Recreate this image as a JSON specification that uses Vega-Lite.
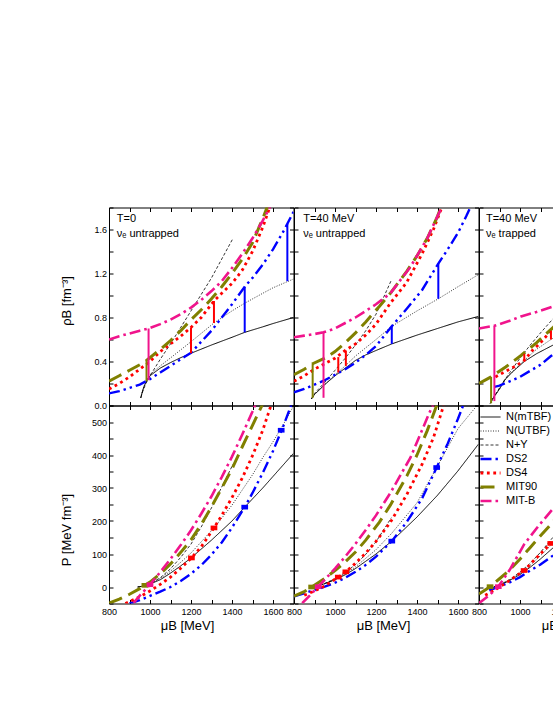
{
"$schema":"https://vega.github.io/schema/vega-lite/v6.json",
"padding":{"left":60,"top":203.5,"right":0,"bottom":0},
"background":"white",
"datasets":{
"curves":[
{"p":"a","m":"N(mTBF)","x":955,"y":0.07},{"p":"a","m":"N(mTBF)","x":962,"y":0.12},{"p":"a","m":"N(mTBF)","x":970,"y":0.17},{"p":"a","m":"N(mTBF)","x":980,"y":0.21},{"p":"a","m":"N(mTBF)","x":1000,"y":0.27},{"p":"a","m":"N(mTBF)","x":1050,"y":0.34},{"p":"a","m":"N(mTBF)","x":1100,"y":0.39},{"p":"a","m":"N(mTBF)","x":1150,"y":0.435},{"p":"a","m":"N(mTBF)","x":1200,"y":0.475},{"p":"a","m":"N(mTBF)","x":1300,"y":0.55},{"p":"a","m":"N(mTBF)","x":1400,"y":0.62},{"p":"a","m":"N(mTBF)","x":1462,"y":0.665},{"p":"a","m":"N(mTBF)","x":1550,"y":0.715},{"p":"a","m":"N(mTBF)","x":1600,"y":0.745},{"p":"a","m":"N(mTBF)","x":1700,"y":0.8},
{"p":"a","m":"N(UTBF)","x":955,"y":0.07},{"p":"a","m":"N(UTBF)","x":962,"y":0.12},{"p":"a","m":"N(UTBF)","x":970,"y":0.17},{"p":"a","m":"N(UTBF)","x":980,"y":0.22},{"p":"a","m":"N(UTBF)","x":1000,"y":0.28},{"p":"a","m":"N(UTBF)","x":1050,"y":0.36},{"p":"a","m":"N(UTBF)","x":1112,"y":0.45},{"p":"a","m":"N(UTBF)","x":1200,"y":0.58},{"p":"a","m":"N(UTBF)","x":1312,"y":0.75},{"p":"a","m":"N(UTBF)","x":1400,"y":0.86},{"p":"a","m":"N(UTBF)","x":1462,"y":0.93},{"p":"a","m":"N(UTBF)","x":1550,"y":1.02},{"p":"a","m":"N(UTBF)","x":1600,"y":1.07},{"p":"a","m":"N(UTBF)","x":1700,"y":1.15},
{"p":"a","m":"N+Y","x":955,"y":0.07},{"p":"a","m":"N+Y","x":965,"y":0.13},{"p":"a","m":"N+Y","x":980,"y":0.2},{"p":"a","m":"N+Y","x":1000,"y":0.27},{"p":"a","m":"N+Y","x":1050,"y":0.42},{"p":"a","m":"N+Y","x":1100,"y":0.56},{"p":"a","m":"N+Y","x":1200,"y":0.86},{"p":"a","m":"N+Y","x":1300,"y":1.16},{"p":"a","m":"N+Y","x":1405,"y":1.52},
{"p":"a","m":"DS2","x":800,"y":0.11},{"p":"a","m":"DS2","x":850,"y":0.13},{"p":"a","m":"DS2","x":900,"y":0.16},{"p":"a","m":"DS2","x":950,"y":0.19},{"p":"a","m":"DS2","x":1000,"y":0.24},{"p":"a","m":"DS2","x":1050,"y":0.3},{"p":"a","m":"DS2","x":1100,"y":0.36},{"p":"a","m":"DS2","x":1150,"y":0.42},{"p":"a","m":"DS2","x":1200,"y":0.48},{"p":"a","m":"DS2","x":1250,"y":0.58},{"p":"a","m":"DS2","x":1300,"y":0.68},{"p":"a","m":"DS2","x":1350,"y":0.8},{"p":"a","m":"DS2","x":1400,"y":0.92},{"p":"a","m":"DS2","x":1462,"y":1.08},{"p":"a","m":"DS2","x":1500,"y":1.16},{"p":"a","m":"DS2","x":1550,"y":1.28},{"p":"a","m":"DS2","x":1600,"y":1.42},{"p":"a","m":"DS2","x":1650,"y":1.58},{"p":"a","m":"DS2","x":1700,"y":1.76},
{"p":"a","m":"DS4","x":800,"y":0.15},{"p":"a","m":"DS4","x":850,"y":0.2},{"p":"a","m":"DS4","x":900,"y":0.26},{"p":"a","m":"DS4","x":950,"y":0.33},{"p":"a","m":"DS4","x":1000,"y":0.4},{"p":"a","m":"DS4","x":1050,"y":0.49},{"p":"a","m":"DS4","x":1100,"y":0.56},{"p":"a","m":"DS4","x":1150,"y":0.63},{"p":"a","m":"DS4","x":1200,"y":0.71},{"p":"a","m":"DS4","x":1250,"y":0.8},{"p":"a","m":"DS4","x":1312,"y":0.95},{"p":"a","m":"DS4","x":1350,"y":1.02},{"p":"a","m":"DS4","x":1400,"y":1.11},{"p":"a","m":"DS4","x":1450,"y":1.23},{"p":"a","m":"DS4","x":1500,"y":1.4},{"p":"a","m":"DS4","x":1550,"y":1.62},{"p":"a","m":"DS4","x":1580,"y":1.78},{"p":"a","m":"DS4","x":1600,"y":1.88},
{"p":"a","m":"MIT90","x":800,"y":0.22},{"p":"a","m":"MIT90","x":850,"y":0.27},{"p":"a","m":"MIT90","x":900,"y":0.32},{"p":"a","m":"MIT90","x":950,"y":0.37},{"p":"a","m":"MIT90","x":983,"y":0.41},{"p":"a","m":"MIT90","x":1050,"y":0.51},{"p":"a","m":"MIT90","x":1100,"y":0.59},{"p":"a","m":"MIT90","x":1150,"y":0.68},{"p":"a","m":"MIT90","x":1200,"y":0.78},{"p":"a","m":"MIT90","x":1250,"y":0.87},{"p":"a","m":"MIT90","x":1300,"y":0.97},{"p":"a","m":"MIT90","x":1350,"y":1.08},{"p":"a","m":"MIT90","x":1400,"y":1.2},{"p":"a","m":"MIT90","x":1450,"y":1.33},{"p":"a","m":"MIT90","x":1500,"y":1.48},{"p":"a","m":"MIT90","x":1550,"y":1.7},{"p":"a","m":"MIT90","x":1575,"y":1.82},
{"p":"a","m":"MIT-B","x":800,"y":0.6},{"p":"a","m":"MIT-B","x":850,"y":0.63},{"p":"a","m":"MIT-B","x":900,"y":0.655},{"p":"a","m":"MIT-B","x":950,"y":0.68},{"p":"a","m":"MIT-B","x":993,"y":0.7},{"p":"a","m":"MIT-B","x":1050,"y":0.74},{"p":"a","m":"MIT-B","x":1100,"y":0.78},{"p":"a","m":"MIT-B","x":1150,"y":0.83},{"p":"a","m":"MIT-B","x":1200,"y":0.89},{"p":"a","m":"MIT-B","x":1250,"y":0.96},{"p":"a","m":"MIT-B","x":1300,"y":1.04},{"p":"a","m":"MIT-B","x":1350,"y":1.13},{"p":"a","m":"MIT-B","x":1400,"y":1.25},{"p":"a","m":"MIT-B","x":1450,"y":1.38},{"p":"a","m":"MIT-B","x":1500,"y":1.52},{"p":"a","m":"MIT-B","x":1550,"y":1.68},{"p":"a","m":"MIT-B","x":1590,"y":1.82},

{"p":"b","m":"N(mTBF)","x":885,"y":0.06},{"p":"b","m":"N(mTBF)","x":900,"y":0.1},{"p":"b","m":"N(mTBF)","x":950,"y":0.19},{"p":"b","m":"N(mTBF)","x":1000,"y":0.27},{"p":"b","m":"N(mTBF)","x":1050,"y":0.34},{"p":"b","m":"N(mTBF)","x":1100,"y":0.41},{"p":"b","m":"N(mTBF)","x":1150,"y":0.46},{"p":"b","m":"N(mTBF)","x":1200,"y":0.5},{"p":"b","m":"N(mTBF)","x":1277,"y":0.56},{"p":"b","m":"N(mTBF)","x":1400,"y":0.64},{"p":"b","m":"N(mTBF)","x":1500,"y":0.7},{"p":"b","m":"N(mTBF)","x":1600,"y":0.76},{"p":"b","m":"N(mTBF)","x":1700,"y":0.81},
{"p":"b","m":"N(UTBF)","x":885,"y":0.06},{"p":"b","m":"N(UTBF)","x":900,"y":0.1},{"p":"b","m":"N(UTBF)","x":950,"y":0.19},{"p":"b","m":"N(UTBF)","x":1000,"y":0.28},{"p":"b","m":"N(UTBF)","x":1050,"y":0.36},{"p":"b","m":"N(UTBF)","x":1100,"y":0.45},{"p":"b","m":"N(UTBF)","x":1200,"y":0.6},{"p":"b","m":"N(UTBF)","x":1277,"y":0.72},{"p":"b","m":"N(UTBF)","x":1400,"y":0.86},{"p":"b","m":"N(UTBF)","x":1504,"y":0.97},{"p":"b","m":"N(UTBF)","x":1600,"y":1.08},{"p":"b","m":"N(UTBF)","x":1700,"y":1.19},
{"p":"b","m":"N+Y","x":885,"y":0.06},{"p":"b","m":"N+Y","x":900,"y":0.11},{"p":"b","m":"N+Y","x":950,"y":0.21},{"p":"b","m":"N+Y","x":1000,"y":0.32},{"p":"b","m":"N+Y","x":1050,"y":0.43},{"p":"b","m":"N+Y","x":1100,"y":0.55},{"p":"b","m":"N+Y","x":1150,"y":0.68},{"p":"b","m":"N+Y","x":1200,"y":0.83},{"p":"b","m":"N+Y","x":1275,"y":1.14},
{"p":"b","m":"DS2","x":800,"y":0.12},{"p":"b","m":"DS2","x":850,"y":0.15},{"p":"b","m":"DS2","x":900,"y":0.19},{"p":"b","m":"DS2","x":950,"y":0.23},{"p":"b","m":"DS2","x":1000,"y":0.28},{"p":"b","m":"DS2","x":1050,"y":0.33},{"p":"b","m":"DS2","x":1100,"y":0.39},{"p":"b","m":"DS2","x":1150,"y":0.46},{"p":"b","m":"DS2","x":1200,"y":0.54},{"p":"b","m":"DS2","x":1277,"y":0.72},{"p":"b","m":"DS2","x":1350,"y":0.88},{"p":"b","m":"DS2","x":1425,"y":1.05},{"p":"b","m":"DS2","x":1504,"y":1.29},{"p":"b","m":"DS2","x":1550,"y":1.42},{"p":"b","m":"DS2","x":1600,"y":1.57},{"p":"b","m":"DS2","x":1640,"y":1.72},{"p":"b","m":"DS2","x":1665,"y":1.82},
{"p":"b","m":"DS4","x":800,"y":0.22},{"p":"b","m":"DS4","x":850,"y":0.27},{"p":"b","m":"DS4","x":900,"y":0.33},{"p":"b","m":"DS4","x":950,"y":0.38},{"p":"b","m":"DS4","x":1000,"y":0.43},{"p":"b","m":"DS4","x":1050,"y":0.5},{"p":"b","m":"DS4","x":1100,"y":0.56},{"p":"b","m":"DS4","x":1150,"y":0.64},{"p":"b","m":"DS4","x":1200,"y":0.74},{"p":"b","m":"DS4","x":1270,"y":0.93},{"p":"b","m":"DS4","x":1350,"y":1.12},{"p":"b","m":"DS4","x":1425,"y":1.38},{"p":"b","m":"DS4","x":1480,"y":1.6},{"p":"b","m":"DS4","x":1525,"y":1.82},
{"p":"b","m":"MIT90","x":800,"y":0.28},{"p":"b","m":"MIT90","x":850,"y":0.33},{"p":"b","m":"MIT90","x":891,"y":0.38},{"p":"b","m":"MIT90","x":950,"y":0.43},{"p":"b","m":"MIT90","x":1000,"y":0.49},{"p":"b","m":"MIT90","x":1050,"y":0.57},{"p":"b","m":"MIT90","x":1100,"y":0.66},{"p":"b","m":"MIT90","x":1150,"y":0.76},{"p":"b","m":"MIT90","x":1216,"y":0.9},{"p":"b","m":"MIT90","x":1270,"y":1.02},{"p":"b","m":"MIT90","x":1350,"y":1.22},{"p":"b","m":"MIT90","x":1400,"y":1.36},{"p":"b","m":"MIT90","x":1450,"y":1.52},{"p":"b","m":"MIT90","x":1500,"y":1.72},{"p":"b","m":"MIT90","x":1520,"y":1.82},
{"p":"b","m":"MIT-B","x":800,"y":0.62},{"p":"b","m":"MIT-B","x":850,"y":0.635},{"p":"b","m":"MIT-B","x":900,"y":0.65},{"p":"b","m":"MIT-B","x":944,"y":0.665},{"p":"b","m":"MIT-B","x":1000,"y":0.7},{"p":"b","m":"MIT-B","x":1050,"y":0.75},{"p":"b","m":"MIT-B","x":1100,"y":0.8},{"p":"b","m":"MIT-B","x":1150,"y":0.86},{"p":"b","m":"MIT-B","x":1200,"y":0.92},{"p":"b","m":"MIT-B","x":1270,"y":1.02},{"p":"b","m":"MIT-B","x":1368,"y":1.26},{"p":"b","m":"MIT-B","x":1450,"y":1.52},{"p":"b","m":"MIT-B","x":1525,"y":1.82},

{"p":"c","m":"N(mTBF)","x":855,"y":0.02},{"p":"c","m":"N(mTBF)","x":870,"y":0.07},{"p":"c","m":"N(mTBF)","x":900,"y":0.15},{"p":"c","m":"N(mTBF)","x":924,"y":0.23},{"p":"c","m":"N(mTBF)","x":960,"y":0.3},{"p":"c","m":"N(mTBF)","x":1021,"y":0.4},{"p":"c","m":"N(mTBF)","x":1080,"y":0.47},{"p":"c","m":"N(mTBF)","x":1162,"y":0.55},{"p":"c","m":"N(mTBF)","x":1200,"y":0.58},
{"p":"c","m":"N(UTBF)","x":855,"y":0.02},{"p":"c","m":"N(UTBF)","x":870,"y":0.07},{"p":"c","m":"N(UTBF)","x":900,"y":0.15},{"p":"c","m":"N(UTBF)","x":930,"y":0.24},{"p":"c","m":"N(UTBF)","x":970,"y":0.32},{"p":"c","m":"N(UTBF)","x":1021,"y":0.41},{"p":"c","m":"N(UTBF)","x":1080,"y":0.51},{"p":"c","m":"N(UTBF)","x":1151,"y":0.6},{"p":"c","m":"N(UTBF)","x":1200,"y":0.66},
{"p":"c","m":"N+Y","x":855,"y":0.02},{"p":"c","m":"N+Y","x":870,"y":0.07},{"p":"c","m":"N+Y","x":900,"y":0.16},{"p":"c","m":"N+Y","x":950,"y":0.3},{"p":"c","m":"N+Y","x":1000,"y":0.43},{"p":"c","m":"N+Y","x":1050,"y":0.55},{"p":"c","m":"N+Y","x":1100,"y":0.66},{"p":"c","m":"N+Y","x":1162,"y":0.79},{"p":"c","m":"N+Y","x":1200,"y":0.86},
{"p":"c","m":"DS2","x":875,"y":0.17},{"p":"c","m":"DS2","x":900,"y":0.18},{"p":"c","m":"DS2","x":950,"y":0.22},{"p":"c","m":"DS2","x":1000,"y":0.26},{"p":"c","m":"DS2","x":1054,"y":0.32},{"p":"c","m":"DS2","x":1100,"y":0.37},{"p":"c","m":"DS2","x":1151,"y":0.45},{"p":"c","m":"DS2","x":1200,"y":0.51},
{"p":"c","m":"DS4","x":880,"y":0.26},{"p":"c","m":"DS4","x":900,"y":0.28},{"p":"c","m":"DS4","x":940,"y":0.32},{"p":"c","m":"DS4","x":980,"y":0.36},{"p":"c","m":"DS4","x":1021,"y":0.41},{"p":"c","m":"DS4","x":1060,"y":0.5},{"p":"c","m":"DS4","x":1100,"y":0.57},{"p":"c","m":"DS4","x":1151,"y":0.68},{"p":"c","m":"DS4","x":1200,"y":0.76},
{"p":"c","m":"MIT90","x":800,"y":0.2},{"p":"c","m":"MIT90","x":859,"y":0.26},{"p":"c","m":"MIT90","x":930,"y":0.35},{"p":"c","m":"MIT90","x":1005,"y":0.455},{"p":"c","m":"MIT90","x":1080,"y":0.57},{"p":"c","m":"MIT90","x":1162,"y":0.71},{"p":"c","m":"MIT90","x":1200,"y":0.78},
{"p":"c","m":"MIT-B","x":800,"y":0.7},{"p":"c","m":"MIT-B","x":875,"y":0.725},{"p":"c","m":"MIT-B","x":950,"y":0.77},{"p":"c","m":"MIT-B","x":1005,"y":0.81},{"p":"c","m":"MIT-B","x":1080,"y":0.85},{"p":"c","m":"MIT-B","x":1162,"y":0.9},{"p":"c","m":"MIT-B","x":1200,"y":0.92},

{"p":"d","m":"N(mTBF)","x":940,"y":0},{"p":"d","m":"N(mTBF)","x":960,"y":2},{"p":"d","m":"N(mTBF)","x":980,"y":5},{"p":"d","m":"N(mTBF)","x":1000,"y":9},{"p":"d","m":"N(mTBF)","x":1050,"y":22},{"p":"d","m":"N(mTBF)","x":1100,"y":42},{"p":"d","m":"N(mTBF)","x":1150,"y":64},{"p":"d","m":"N(mTBF)","x":1200,"y":88},{"p":"d","m":"N(mTBF)","x":1300,"y":142},{"p":"d","m":"N(mTBF)","x":1400,"y":200},{"p":"d","m":"N(mTBF)","x":1462,"y":242},{"p":"d","m":"N(mTBF)","x":1550,"y":300},{"p":"d","m":"N(mTBF)","x":1600,"y":335},{"p":"d","m":"N(mTBF)","x":1700,"y":405},
{"p":"d","m":"N(UTBF)","x":940,"y":0},{"p":"d","m":"N(UTBF)","x":960,"y":2},{"p":"d","m":"N(UTBF)","x":980,"y":5},{"p":"d","m":"N(UTBF)","x":1000,"y":10},{"p":"d","m":"N(UTBF)","x":1050,"y":26},{"p":"d","m":"N(UTBF)","x":1100,"y":48},{"p":"d","m":"N(UTBF)","x":1150,"y":75},{"p":"d","m":"N(UTBF)","x":1200,"y":103},{"p":"d","m":"N(UTBF)","x":1312,"y":179},{"p":"d","m":"N(UTBF)","x":1400,"y":248},{"p":"d","m":"N(UTBF)","x":1500,"y":340},{"p":"d","m":"N(UTBF)","x":1550,"y":392},{"p":"d","m":"N(UTBF)","x":1600,"y":440},{"p":"d","m":"N(UTBF)","x":1650,"y":492},{"p":"d","m":"N(UTBF)","x":1700,"y":548},
{"p":"d","m":"N+Y","x":940,"y":0},{"p":"d","m":"N+Y","x":960,"y":2},{"p":"d","m":"N+Y","x":980,"y":5},{"p":"d","m":"N+Y","x":1000,"y":10},{"p":"d","m":"N+Y","x":1050,"y":28},{"p":"d","m":"N+Y","x":1100,"y":55},{"p":"d","m":"N+Y","x":1150,"y":90},{"p":"d","m":"N+Y","x":1200,"y":130},{"p":"d","m":"N+Y","x":1250,"y":182},{"p":"d","m":"N+Y","x":1300,"y":240},{"p":"d","m":"N+Y","x":1350,"y":303},{"p":"d","m":"N+Y","x":1405,"y":372},
{"p":"d","m":"DS2","x":900,"y":-50},{"p":"d","m":"DS2","x":950,"y":-40},{"p":"d","m":"DS2","x":1000,"y":-27},{"p":"d","m":"DS2","x":1050,"y":-14},{"p":"d","m":"DS2","x":1100,"y":0},{"p":"d","m":"DS2","x":1150,"y":18},{"p":"d","m":"DS2","x":1200,"y":40},{"p":"d","m":"DS2","x":1250,"y":66},{"p":"d","m":"DS2","x":1300,"y":98},{"p":"d","m":"DS2","x":1350,"y":135},{"p":"d","m":"DS2","x":1400,"y":180},{"p":"d","m":"DS2","x":1462,"y":242},{"p":"d","m":"DS2","x":1500,"y":285},{"p":"d","m":"DS2","x":1550,"y":346},{"p":"d","m":"DS2","x":1600,"y":412},{"p":"d","m":"DS2","x":1650,"y":487},{"p":"d","m":"DS2","x":1700,"y":570},
{"p":"d","m":"DS4","x":880,"y":-50},{"p":"d","m":"DS4","x":900,"y":-44},{"p":"d","m":"DS4","x":950,"y":-30},{"p":"d","m":"DS4","x":1000,"y":-12},{"p":"d","m":"DS4","x":1050,"y":8},{"p":"d","m":"DS4","x":1100,"y":30},{"p":"d","m":"DS4","x":1150,"y":57},{"p":"d","m":"DS4","x":1202,"y":88},{"p":"d","m":"DS4","x":1250,"y":122},{"p":"d","m":"DS4","x":1312,"y":179},{"p":"d","m":"DS4","x":1350,"y":217},{"p":"d","m":"DS4","x":1400,"y":271},{"p":"d","m":"DS4","x":1450,"y":330},{"p":"d","m":"DS4","x":1503,"y":402},{"p":"d","m":"DS4","x":1550,"y":475},{"p":"d","m":"DS4","x":1590,"y":550},
{"p":"d","m":"MIT90","x":800,"y":-49},{"p":"d","m":"MIT90","x":850,"y":-37},{"p":"d","m":"MIT90","x":900,"y":-22},{"p":"d","m":"MIT90","x":950,"y":-5},{"p":"d","m":"MIT90","x":975,"y":5},{"p":"d","m":"MIT90","x":1000,"y":15},{"p":"d","m":"MIT90","x":1050,"y":40},{"p":"d","m":"MIT90","x":1100,"y":70},{"p":"d","m":"MIT90","x":1150,"y":105},{"p":"d","m":"MIT90","x":1200,"y":143},{"p":"d","m":"MIT90","x":1250,"y":190},{"p":"d","m":"MIT90","x":1300,"y":243},{"p":"d","m":"MIT90","x":1350,"y":300},{"p":"d","m":"MIT90","x":1400,"y":358},{"p":"d","m":"MIT90","x":1450,"y":425},{"p":"d","m":"MIT90","x":1500,"y":490},{"p":"d","m":"MIT90","x":1550,"y":555},
{"p":"d","m":"MIT-B","x":920,"y":-48},{"p":"d","m":"MIT-B","x":950,"y":-26},{"p":"d","m":"MIT-B","x":1000,"y":7},{"p":"d","m":"MIT-B","x":1050,"y":45},{"p":"d","m":"MIT-B","x":1100,"y":85},{"p":"d","m":"MIT-B","x":1150,"y":127},{"p":"d","m":"MIT-B","x":1200,"y":172},{"p":"d","m":"MIT-B","x":1250,"y":222},{"p":"d","m":"MIT-B","x":1300,"y":275},{"p":"d","m":"MIT-B","x":1350,"y":333},{"p":"d","m":"MIT-B","x":1400,"y":395},{"p":"d","m":"MIT-B","x":1450,"y":462},{"p":"d","m":"MIT-B","x":1500,"y":532},{"p":"d","m":"MIT-B","x":1515,"y":555},

{"p":"e","m":"N(mTBF)","x":878,"y":-3},{"p":"e","m":"N(mTBF)","x":900,"y":0},{"p":"e","m":"N(mTBF)","x":950,"y":10},{"p":"e","m":"N(mTBF)","x":1000,"y":22},{"p":"e","m":"N(mTBF)","x":1050,"y":37},{"p":"e","m":"N(mTBF)","x":1100,"y":56},{"p":"e","m":"N(mTBF)","x":1150,"y":78},{"p":"e","m":"N(mTBF)","x":1200,"y":100},{"p":"e","m":"N(mTBF)","x":1277,"y":139},{"p":"e","m":"N(mTBF)","x":1400,"y":212},{"p":"e","m":"N(mTBF)","x":1500,"y":278},{"p":"e","m":"N(mTBF)","x":1600,"y":352},{"p":"e","m":"N(mTBF)","x":1700,"y":433},
{"p":"e","m":"N(UTBF)","x":878,"y":-3},{"p":"e","m":"N(UTBF)","x":900,"y":0},{"p":"e","m":"N(UTBF)","x":950,"y":10},{"p":"e","m":"N(UTBF)","x":1000,"y":23},{"p":"e","m":"N(UTBF)","x":1050,"y":40},{"p":"e","m":"N(UTBF)","x":1100,"y":61},{"p":"e","m":"N(UTBF)","x":1150,"y":87},{"p":"e","m":"N(UTBF)","x":1200,"y":113},{"p":"e","m":"N(UTBF)","x":1277,"y":163},{"p":"e","m":"N(UTBF)","x":1400,"y":255},{"p":"e","m":"N(UTBF)","x":1496,"y":362},{"p":"e","m":"N(UTBF)","x":1600,"y":480},{"p":"e","m":"N(UTBF)","x":1690,"y":548},
{"p":"e","m":"N+Y","x":878,"y":-3},{"p":"e","m":"N+Y","x":900,"y":0},{"p":"e","m":"N+Y","x":950,"y":11},{"p":"e","m":"N+Y","x":1000,"y":25},{"p":"e","m":"N+Y","x":1050,"y":44},{"p":"e","m":"N+Y","x":1100,"y":68},{"p":"e","m":"N+Y","x":1150,"y":99},{"p":"e","m":"N+Y","x":1200,"y":137},{"p":"e","m":"N+Y","x":1275,"y":210},
{"p":"e","m":"DS2","x":800,"y":-28},{"p":"e","m":"DS2","x":850,"y":-19},{"p":"e","m":"DS2","x":900,"y":-9},{"p":"e","m":"DS2","x":950,"y":1},{"p":"e","m":"DS2","x":1000,"y":13},{"p":"e","m":"DS2","x":1050,"y":28},{"p":"e","m":"DS2","x":1100,"y":46},{"p":"e","m":"DS2","x":1150,"y":67},{"p":"e","m":"DS2","x":1200,"y":92},{"p":"e","m":"DS2","x":1277,"y":139},{"p":"e","m":"DS2","x":1350,"y":197},{"p":"e","m":"DS2","x":1425,"y":269},{"p":"e","m":"DS2","x":1496,"y":362},{"p":"e","m":"DS2","x":1550,"y":435},{"p":"e","m":"DS2","x":1600,"y":510},{"p":"e","m":"DS2","x":1625,"y":550},
{"p":"e","m":"DS4","x":850,"y":-25},{"p":"e","m":"DS4","x":900,"y":-12},{"p":"e","m":"DS4","x":950,"y":3},{"p":"e","m":"DS4","x":1016,"y":30},{"p":"e","m":"DS4","x":1053,"y":46},{"p":"e","m":"DS4","x":1100,"y":72},{"p":"e","m":"DS4","x":1150,"y":103},{"p":"e","m":"DS4","x":1200,"y":138},{"p":"e","m":"DS4","x":1270,"y":196},{"p":"e","m":"DS4","x":1350,"y":280},{"p":"e","m":"DS4","x":1425,"y":372},{"p":"e","m":"DS4","x":1480,"y":452},{"p":"e","m":"DS4","x":1530,"y":550},
{"p":"e","m":"MIT90","x":800,"y":-28},{"p":"e","m":"MIT90","x":850,"y":-14},{"p":"e","m":"MIT90","x":886,"y":0},{"p":"e","m":"MIT90","x":950,"y":26},{"p":"e","m":"MIT90","x":1000,"y":50},{"p":"e","m":"MIT90","x":1050,"y":76},{"p":"e","m":"MIT90","x":1100,"y":106},{"p":"e","m":"MIT90","x":1150,"y":142},{"p":"e","m":"MIT90","x":1216,"y":196},{"p":"e","m":"MIT90","x":1270,"y":248},{"p":"e","m":"MIT90","x":1350,"y":336},{"p":"e","m":"MIT90","x":1400,"y":400},{"p":"e","m":"MIT90","x":1450,"y":474},{"p":"e","m":"MIT90","x":1496,"y":550},
{"p":"e","m":"MIT-B","x":840,"y":-49},{"p":"e","m":"MIT-B","x":880,"y":-24},{"p":"e","m":"MIT-B","x":918,"y":1},{"p":"e","m":"MIT-B","x":950,"y":22},{"p":"e","m":"MIT-B","x":1000,"y":56},{"p":"e","m":"MIT-B","x":1050,"y":92},{"p":"e","m":"MIT-B","x":1100,"y":131},{"p":"e","m":"MIT-B","x":1150,"y":173},{"p":"e","m":"MIT-B","x":1200,"y":217},{"p":"e","m":"MIT-B","x":1270,"y":285},{"p":"e","m":"MIT-B","x":1368,"y":392},{"p":"e","m":"MIT-B","x":1455,"y":520},{"p":"e","m":"MIT-B","x":1480,"y":555},

{"p":"f","m":"N(mTBF)","x":850,"y":-5},{"p":"f","m":"N(mTBF)","x":900,"y":5},{"p":"f","m":"N(mTBF)","x":950,"y":20},{"p":"f","m":"N(mTBF)","x":1000,"y":38},{"p":"f","m":"N(mTBF)","x":1050,"y":60},{"p":"f","m":"N(mTBF)","x":1100,"y":85},{"p":"f","m":"N(mTBF)","x":1160,"y":118},{"p":"f","m":"N(mTBF)","x":1200,"y":140},
{"p":"f","m":"N(UTBF)","x":850,"y":-5},{"p":"f","m":"N(UTBF)","x":900,"y":5},{"p":"f","m":"N(UTBF)","x":950,"y":21},{"p":"f","m":"N(UTBF)","x":1000,"y":41},{"p":"f","m":"N(UTBF)","x":1050,"y":66},{"p":"f","m":"N(UTBF)","x":1100,"y":95},{"p":"f","m":"N(UTBF)","x":1160,"y":132},{"p":"f","m":"N(UTBF)","x":1200,"y":160},
{"p":"f","m":"N+Y","x":850,"y":-5},{"p":"f","m":"N+Y","x":900,"y":6},{"p":"f","m":"N+Y","x":950,"y":23},{"p":"f","m":"N+Y","x":1000,"y":45},{"p":"f","m":"N+Y","x":1050,"y":72},{"p":"f","m":"N+Y","x":1100,"y":105},{"p":"f","m":"N+Y","x":1160,"y":150},{"p":"f","m":"N+Y","x":1200,"y":182},
{"p":"f","m":"DS2","x":850,"y":-10},{"p":"f","m":"DS2","x":900,"y":2},{"p":"f","m":"DS2","x":950,"y":14},{"p":"f","m":"DS2","x":1000,"y":30},{"p":"f","m":"DS2","x":1050,"y":50},{"p":"f","m":"DS2","x":1100,"y":68},{"p":"f","m":"DS2","x":1160,"y":95},{"p":"f","m":"DS2","x":1200,"y":118},
{"p":"f","m":"DS4","x":830,"y":-25},{"p":"f","m":"DS4","x":880,"y":-8},{"p":"f","m":"DS4","x":950,"y":20},{"p":"f","m":"DS4","x":1020,"y":50},{"p":"f","m":"DS4","x":1080,"y":88},{"p":"f","m":"DS4","x":1150,"y":132},{"p":"f","m":"DS4","x":1200,"y":170},
{"p":"f","m":"MIT90","x":800,"y":-21},{"p":"f","m":"MIT90","x":854,"y":1},{"p":"f","m":"MIT90","x":900,"y":25},{"p":"f","m":"MIT90","x":950,"y":52},{"p":"f","m":"MIT90","x":1005,"y":88},{"p":"f","m":"MIT90","x":1050,"y":120},{"p":"f","m":"MIT90","x":1100,"y":155},{"p":"f","m":"MIT90","x":1165,"y":200},{"p":"f","m":"MIT90","x":1200,"y":228},
{"p":"f","m":"MIT-B","x":800,"y":-49},{"p":"f","m":"MIT-B","x":850,"y":-25},{"p":"f","m":"MIT-B","x":894,"y":1},{"p":"f","m":"MIT-B","x":950,"y":52},{"p":"f","m":"MIT-B","x":1020,"y":129},{"p":"f","m":"MIT-B","x":1090,"y":185},{"p":"f","m":"MIT-B","x":1165,"y":240},{"p":"f","m":"MIT-B","x":1200,"y":270}
],
"trans":[
{"p":"a","m":"MIT90","x":983,"lo":0.22,"hi":0.41},{"p":"a","m":"MIT-B","x":993,"lo":0.23,"hi":0.7},{"p":"a","m":"DS4","x":1200,"lo":0.475,"hi":0.71},{"p":"a","m":"DS4","x":1312,"lo":0.75,"hi":0.95},{"p":"a","m":"DS2","x":1462,"lo":0.665,"hi":1.08},{"p":"a","m":"DS2","x":1670,"lo":1.13,"hi":1.65},
{"p":"b","m":"MIT90","x":891,"lo":0.07,"hi":0.38},{"p":"b","m":"MIT-B","x":944,"lo":0.07,"hi":0.665},{"p":"b","m":"DS4","x":1016,"lo":0.3,"hi":0.44},{"p":"b","m":"DS4","x":1053,"lo":0.36,"hi":0.5},{"p":"b","m":"DS2","x":1277,"lo":0.56,"hi":0.72},{"p":"b","m":"DS2","x":1504,"lo":0.97,"hi":1.29},
{"p":"c","m":"MIT90","x":859,"lo":0.02,"hi":0.26},{"p":"c","m":"MIT-B","x":875,"lo":0.04,"hi":0.725},{"p":"c","m":"DS4","x":1021,"lo":0.41,"hi":0.47},{"p":"c","m":"DS4","x":1151,"lo":0.6,"hi":0.68}
],
"squares":[
{"p":"d","m":"MIT90","x":975,"y":5},{"p":"d","m":"MIT-B","x":1000,"y":7},{"p":"d","m":"DS4","x":1202,"y":88},{"p":"d","m":"DS4","x":1312,"y":179},{"p":"d","m":"DS2","x":1462,"y":242},{"p":"d","m":"DS2","x":1640,"y":475},
{"p":"e","m":"MIT90","x":886,"y":0},{"p":"e","m":"MIT-B","x":918,"y":1},{"p":"e","m":"DS4","x":1016,"y":30},{"p":"e","m":"DS4","x":1053,"y":46},{"p":"e","m":"DS2","x":1277,"y":139},{"p":"e","m":"DS2","x":1496,"y":362},
{"p":"f","m":"MIT90","x":854,"y":1},{"p":"f","m":"MIT-B","x":894,"y":1},{"p":"f","m":"DS4","x":1020,"y":50},{"p":"f","m":"DS4","x":1150,"y":132}
],
"notes":[
{"p":"a","x":838,"y":1.7,"t":"T=0"},{"p":"a","x":838,"y":1.555,"t":"νₑ untrapped"},
{"p":"b","x":845,"y":1.7,"t":"T=40 MeV"},{"p":"b","x":845,"y":1.555,"t":"νₑ untrapped"},
{"p":"c","x":834,"y":1.7,"t":"T=40 MeV"},{"p":"c","x":834,"y":1.555,"t":"νₑ trapped"}
]
},
"columns":3,
"spacing":0,
"bounds":"flush",
"resolve":{"legend":{"color":"independent","strokeDash":"independent","strokeWidth":"independent"}},
"concat":[
{"width":184.5,"height":198,
 "layer":[
  {"data":{"name":"curves"},"transform":[{"filter":"datum.p=='a'"}],"mark":{"type":"line","clip":true},
   "encoding":{
    "x":{"field":"x","type":"quantitative","scale":{"domain":[800,1700]},"axis":{"orient":"bottom","values":[800,900,1000,1100,1200,1300,1400,1500,1600,1700],"labels":false,"title":null}},
    "y":{"field":"y","type":"quantitative","scale":{"domain":[0,1.8]},"axis":{"orient":"left","values":[0,0.2,0.4,0.6,0.8,1,1.2,1.4,1.6,1.8],"labelExpr":"(round(datum.value*10) % 4 == 0 && datum.value < 1.7) ? format(datum.value,'.1f') : ''","title":"ρB [fm⁻³]","titleX":-36,"titleY":93}},
    "color":{"field":"m","type":"nominal","scale":{"domain":["N(mTBF)","N(UTBF)","N+Y","DS2","DS4","MIT90","MIT-B"],"range":["#000000","#000000","#000000","#0000FF","#FF0000","#808000","#F0148C"]},"legend":null},
    "strokeDash":{"field":"m","type":"nominal","scale":{"domain":["N(mTBF)","N(UTBF)","N+Y","DS2","DS4","MIT90","MIT-B"],"range":[[1,0],[1,1.5],[3,2],[11,4,2.4,4,2.4,4],[2.8,3.6],[14,7],[11,4,2.6,4]]},"legend":null},
    "strokeWidth":{"field":"m","type":"nominal","scale":{"type":"ordinal","domain":["N(mTBF)","N(UTBF)","N+Y","DS2","DS4","MIT90","MIT-B"],"range":[1,0.8,0.8,2.4,2.8,3,2.6]},"legend":null}
   }},
  {"data":{"name":"trans"},"transform":[{"filter":"datum.p=='a'"}],"mark":{"type":"rule","strokeWidth":2},
   "encoding":{"x":{"field":"x","type":"quantitative","axis":null},"y":{"field":"lo","type":"quantitative","axis":null},"y2":{"field":"hi"},"color":{"field":"m","type":"nominal","legend":null}}},
  {"data":{"name":"notes"},"transform":[{"filter":"datum.p=='a'"}],"mark":{"type":"text","align":"left","baseline":"middle","fontSize":11,"font":"Liberation Sans","color":"#000"},
   "encoding":{"x":{"field":"x","type":"quantitative","axis":{"orient":"top","values":[800,900,1000,1100,1200,1300,1400,1500,1600,1700],"labels":false,"title":null}},
    "y":{"field":"y","type":"quantitative","axis":{"orient":"right","values":[0,0.2,0.4,0.6,0.8,1,1.2,1.4,1.6,1.8],"labels":false,"title":null}},"text":{"field":"t"}}}
 ],
 "resolve":{"axis":{"x":"independent","y":"independent"}}},
{"width":184.5,"height":198,
 "layer":[
  {"data":{"name":"curves"},"transform":[{"filter":"datum.p=='b'"}],"mark":{"type":"line","clip":true},
   "encoding":{
    "x":{"field":"x","type":"quantitative","scale":{"domain":[800,1700]},"axis":{"orient":"bottom","values":[800,900,1000,1100,1200,1300,1400,1500,1600,1700],"labels":false,"title":null}},
    "y":{"field":"y","type":"quantitative","scale":{"domain":[0,1.8]},"axis":{"orient":"left","values":[0,0.2,0.4,0.6,0.8,1,1.2,1.4,1.6,1.8],"labels":false,"title":null}},
    "color":{"field":"m","type":"nominal","scale":{"domain":["N(mTBF)","N(UTBF)","N+Y","DS2","DS4","MIT90","MIT-B"],"range":["#000000","#000000","#000000","#0000FF","#FF0000","#808000","#F0148C"]},"legend":null},
    "strokeDash":{"field":"m","type":"nominal","scale":{"domain":["N(mTBF)","N(UTBF)","N+Y","DS2","DS4","MIT90","MIT-B"],"range":[[1,0],[1,1.5],[3,2],[11,4,2.4,4,2.4,4],[2.8,3.6],[14,7],[11,4,2.6,4]]},"legend":null},
    "strokeWidth":{"field":"m","type":"nominal","scale":{"type":"ordinal","domain":["N(mTBF)","N(UTBF)","N+Y","DS2","DS4","MIT90","MIT-B"],"range":[1,0.8,0.8,2.4,2.8,3,2.6]},"legend":null}
   }},
  {"data":{"name":"trans"},"transform":[{"filter":"datum.p=='b'"}],"mark":{"type":"rule","strokeWidth":2},
   "encoding":{"x":{"field":"x","type":"quantitative","axis":null},"y":{"field":"lo","type":"quantitative","axis":null},"y2":{"field":"hi"},"color":{"field":"m","type":"nominal","legend":null}}},
  {"data":{"name":"notes"},"transform":[{"filter":"datum.p=='b'"}],"mark":{"type":"text","align":"left","baseline":"middle","fontSize":11,"font":"Liberation Sans","color":"#000"},
   "encoding":{"x":{"field":"x","type":"quantitative","axis":{"orient":"top","values":[800,900,1000,1100,1200,1300,1400,1500,1600,1700],"labels":false,"title":null}},
    "y":{"field":"y","type":"quantitative","axis":{"orient":"right","values":[0,0.2,0.4,0.6,0.8,1,1.2,1.4,1.6,1.8],"labels":false,"title":null}},"text":{"field":"t"}}}
 ],
 "resolve":{"axis":{"x":"independent","y":"independent"}}},
{"width":184.5,"height":198,
 "layer":[
  {"data":{"name":"curves"},"transform":[{"filter":"datum.p=='c'"}],"mark":{"type":"line","clip":true},
   "encoding":{
    "x":{"field":"x","type":"quantitative","scale":{"domain":[800,1700]},"axis":{"orient":"bottom","values":[800,900,1000,1100,1200,1300,1400,1500,1600,1700],"labels":false,"title":null}},
    "y":{"field":"y","type":"quantitative","scale":{"domain":[0,1.8]},"axis":{"orient":"left","values":[0,0.2,0.4,0.6,0.8,1,1.2,1.4,1.6,1.8],"labels":false,"title":null}},
    "color":{"field":"m","type":"nominal","scale":{"domain":["N(mTBF)","N(UTBF)","N+Y","DS2","DS4","MIT90","MIT-B"],"range":["#000000","#000000","#000000","#0000FF","#FF0000","#808000","#F0148C"]},"legend":null},
    "strokeDash":{"field":"m","type":"nominal","scale":{"domain":["N(mTBF)","N(UTBF)","N+Y","DS2","DS4","MIT90","MIT-B"],"range":[[1,0],[1,1.5],[3,2],[11,4,2.4,4,2.4,4],[2.8,3.6],[14,7],[11,4,2.6,4]]},"legend":null},
    "strokeWidth":{"field":"m","type":"nominal","scale":{"type":"ordinal","domain":["N(mTBF)","N(UTBF)","N+Y","DS2","DS4","MIT90","MIT-B"],"range":[1,0.8,0.8,2.4,2.8,3,2.6]},"legend":null}
   }},
  {"data":{"name":"trans"},"transform":[{"filter":"datum.p=='c'"}],"mark":{"type":"rule","strokeWidth":2},
   "encoding":{"x":{"field":"x","type":"quantitative","axis":null},"y":{"field":"lo","type":"quantitative","axis":null},"y2":{"field":"hi"},"color":{"field":"m","type":"nominal","legend":null}}},
  {"data":{"name":"notes"},"transform":[{"filter":"datum.p=='c'"}],"mark":{"type":"text","align":"left","baseline":"middle","fontSize":11,"font":"Liberation Sans","color":"#000"},
   "encoding":{"x":{"field":"x","type":"quantitative","axis":{"orient":"top","values":[800,900,1000,1100,1200,1300,1400,1500,1600,1700],"labels":false,"title":null}},
    "y":{"field":"y","type":"quantitative","axis":{"orient":"right","values":[0,0.2,0.4,0.6,0.8,1,1.2,1.4,1.6,1.8],"labels":false,"title":null}},"text":{"field":"t"}}}
 ],
 "resolve":{"axis":{"x":"independent","y":"independent"}}},
{"width":184.5,"height":198,
 "layer":[
  {"data":{"name":"curves"},"transform":[{"filter":"datum.p=='d'"}],"mark":{"type":"line","clip":true},
   "encoding":{
    "x":{"field":"x","type":"quantitative","scale":{"domain":[800,1700]},"axis":{"orient":"bottom","values":[800,900,1000,1100,1200,1300,1400,1500,1600,1700],"labelExpr":"(datum.value % 200 == 0 && datum.value < 1700) ? format(datum.value,'d') : ''","title":"μB [MeV]","titleX":78,"titleY":16,"titleBaseline":"top"}},
    "y":{"field":"y","type":"quantitative","scale":{"domain":[-50,550]},"axis":{"orient":"left","values":[-50,0,50,100,150,200,250,300,350,400,450,500,550],"labelExpr":"datum.value % 100 == 0 ? format(datum.value,'d') : ''","title":"P [MeV fm⁻³]","titleX":-36,"titleY":124}},
    "color":{"field":"m","type":"nominal","scale":{"domain":["N(mTBF)","N(UTBF)","N+Y","DS2","DS4","MIT90","MIT-B"],"range":["#000000","#000000","#000000","#0000FF","#FF0000","#808000","#F0148C"]},"legend":null},
    "strokeDash":{"field":"m","type":"nominal","scale":{"domain":["N(mTBF)","N(UTBF)","N+Y","DS2","DS4","MIT90","MIT-B"],"range":[[1,0],[1,1.5],[3,2],[11,4,2.4,4,2.4,4],[2.8,3.6],[14,7],[11,4,2.6,4]]},"legend":null},
    "strokeWidth":{"field":"m","type":"nominal","scale":{"type":"ordinal","domain":["N(mTBF)","N(UTBF)","N+Y","DS2","DS4","MIT90","MIT-B"],"range":[1,0.8,0.8,2.4,2.8,3,2.6]},"legend":null}
   }},
  {"data":{"name":"squares"},"transform":[{"filter":"datum.p=='d'"}],"mark":{"type":"point","shape":"M-1,-0.7L1,-0.7L1,0.7L-1,0.7Z","filled":true,"opacity":1,"size":45},
   "encoding":{"x":{"field":"x","type":"quantitative","axis":{"orient":"top","values":[800,900,1000,1100,1200,1300,1400,1500,1600,1700],"labels":false,"title":null}},
    "y":{"field":"y","type":"quantitative","axis":{"orient":"right","values":[-50,0,50,100,150,200,250,300,350,400,450,500,550],"labels":false,"title":null}},"color":{"field":"m","type":"nominal","legend":null}}}
 ],
 "resolve":{"axis":{"x":"independent","y":"independent"}}},
{"width":184.5,"height":198,
 "layer":[
  {"data":{"name":"curves"},"transform":[{"filter":"datum.p=='e'"}],"mark":{"type":"line","clip":true},
   "encoding":{
    "x":{"field":"x","type":"quantitative","scale":{"domain":[800,1700]},"axis":{"orient":"bottom","values":[800,900,1000,1100,1200,1300,1400,1500,1600,1700],"labelExpr":"(datum.value % 200 == 0 && datum.value < 1700) ? format(datum.value,'d') : ''","title":"μB [MeV]","titleX":89,"titleY":16,"titleBaseline":"top"}},
    "y":{"field":"y","type":"quantitative","scale":{"domain":[-50,550]},"axis":{"orient":"left","values":[-50,0,50,100,150,200,250,300,350,400,450,500,550],"labels":false,"title":null}},
    "color":{"field":"m","type":"nominal","scale":{"domain":["N(mTBF)","N(UTBF)","N+Y","DS2","DS4","MIT90","MIT-B"],"range":["#000000","#000000","#000000","#0000FF","#FF0000","#808000","#F0148C"]},"legend":null},
    "strokeDash":{"field":"m","type":"nominal","scale":{"domain":["N(mTBF)","N(UTBF)","N+Y","DS2","DS4","MIT90","MIT-B"],"range":[[1,0],[1,1.5],[3,2],[11,4,2.4,4,2.4,4],[2.8,3.6],[14,7],[11,4,2.6,4]]},"legend":null},
    "strokeWidth":{"field":"m","type":"nominal","scale":{"type":"ordinal","domain":["N(mTBF)","N(UTBF)","N+Y","DS2","DS4","MIT90","MIT-B"],"range":[1,0.8,0.8,2.4,2.8,3,2.6]},"legend":null}
   }},
  {"data":{"name":"squares"},"transform":[{"filter":"datum.p=='e'"}],"mark":{"type":"point","shape":"M-1,-0.7L1,-0.7L1,0.7L-1,0.7Z","filled":true,"opacity":1,"size":45},
   "encoding":{"x":{"field":"x","type":"quantitative","axis":{"orient":"top","values":[800,900,1000,1100,1200,1300,1400,1500,1600,1700],"labels":false,"title":null}},
    "y":{"field":"y","type":"quantitative","axis":{"orient":"right","values":[-50,0,50,100,150,200,250,300,350,400,450,500,550],"labels":false,"title":null}},"color":{"field":"m","type":"nominal","legend":null}}}
 ],
 "resolve":{"axis":{"x":"independent","y":"independent"}}},
{"width":184.5,"height":198,
 "layer":[
  {"data":{"name":"curves"},"transform":[{"filter":"datum.p=='f'"}],"mark":{"type":"line","clip":true},
   "encoding":{
    "x":{"field":"x","type":"quantitative","scale":{"domain":[800,1700]},"axis":{"orient":"bottom","values":[800,900,1000,1100,1200,1300,1400,1500,1600,1700],"labelExpr":"(datum.value % 200 == 0 && datum.value < 1700) ? format(datum.value,'d') : ''","title":"μB [MeV]","titleX":89,"titleY":16,"titleBaseline":"top"}},
    "y":{"field":"y","type":"quantitative","scale":{"domain":[-50,550]},"axis":{"orient":"left","values":[-50,0,50,100,150,200,250,300,350,400,450,500,550],"labels":false,"title":null}},
    "color":{"field":"m","type":"nominal","scale":{"domain":["N(mTBF)","N(UTBF)","N+Y","DS2","DS4","MIT90","MIT-B"],"range":["#000000","#000000","#000000","#0000FF","#FF0000","#808000","#F0148C"]},"legend":{"orient":"none","legendX":0,"legendY":4.5,"padding":0,"title":null,"symbolType":"stroke","symbolSize":400,"clipHeight":14,"labelFontSize":11,"labelFont":"Liberation Sans","labelColor":"#000","labelOffset":4,"rowPadding":0}},
    "strokeDash":{"field":"m","type":"nominal","scale":{"domain":["N(mTBF)","N(UTBF)","N+Y","DS2","DS4","MIT90","MIT-B"],"range":[[1,0],[1,1.5],[3,2],[11,4,2.4,4,2.4,4],[2.8,3.6],[14,7],[11,4,2.6,4]]}},
    "strokeWidth":{"field":"m","type":"nominal","scale":{"type":"ordinal","domain":["N(mTBF)","N(UTBF)","N+Y","DS2","DS4","MIT90","MIT-B"],"range":[1,0.8,0.8,2.4,2.8,3,2.6]}}
   }},
  {"data":{"name":"squares"},"transform":[{"filter":"datum.p=='f'"}],"mark":{"type":"point","shape":"M-1,-0.7L1,-0.7L1,0.7L-1,0.7Z","filled":true,"opacity":1,"size":45},
   "encoding":{"x":{"field":"x","type":"quantitative","axis":{"orient":"top","values":[800,900,1000,1100,1200,1300,1400,1500,1600,1700],"labels":false,"title":null}},
    "y":{"field":"y","type":"quantitative","axis":{"orient":"right","values":[-50,0,50,100,150,200,250,300,350,400,450,500,550],"labels":false,"title":null}},"color":{"field":"m","type":"nominal","legend":null}}}
 ],
 "resolve":{"axis":{"x":"independent","y":"independent"}}}
],
"config":{
 "view":{"stroke":null},
 "font":"Liberation Sans",
 "axis":{"domain":true,"domainColor":"#000","domainWidth":1,"ticks":true,"tickSize":-4,"tickColor":"#000","tickWidth":1,"grid":false,"labelFont":"Liberation Sans","labelFontSize":9,"labelColor":"#000","labelOverlap":false,"labelBound":false,"labelFlush":false,"titleFont":"Liberation Sans","titleFontSize":13,"titleFontWeight":"normal","titleColor":"#000"},
 "axisX":{"labelPadding":8},
 "axisY":{"labelPadding":6.5}
}
}
